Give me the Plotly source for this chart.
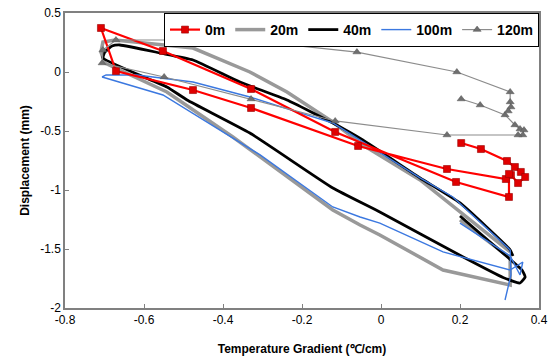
import plotly.graph_objects as go

# Displacement vs. temperature gradient loops at different depths
x_0m = [0.203, 0.253, 0.319, 0.339, 0.354, 0.365, 0.347, 0.329, 0.316, 0.167, -0.058,
        -0.329, -0.476, -0.671, -0.709, -0.552, -0.329, -0.116, 0.190, 0.324, 0.324]
y_0m = [-0.602, -0.653, -0.754, -0.805, -0.847, -0.890, -0.941, -0.873, -0.907, -0.822, -0.627,
        -0.305, -0.153, 0.008, 0.373, 0.178, -0.144, -0.508, -0.932, -1.059, -0.864]

x_20m = [0.200, 0.258, 0.327, 0.327, 0.157, -0.003, -0.053, -0.122, -0.306, -0.375, -0.542,
         -0.699, -0.709, -0.704, -0.673, -0.559, -0.476, -0.332, -0.238, -0.122, -0.046,
         0.099, 0.327]
y_20m = [-1.254, -1.398, -1.576, -1.805, -1.678, -1.381, -1.297, -1.169, -0.720, -0.551, -0.169,
         0.076, 0.169, 0.254, 0.271, 0.229, 0.203, 0.0, -0.169, -0.424, -0.619,
         -0.915, -1.525]

x_40m = [0.200, 0.314, 0.357, 0.365, 0.352, 0.309, 0.208, -0.003, -0.122, -0.332, -0.491, -0.542,
         -0.704, -0.699, -0.681, -0.661, -0.559, -0.476, -0.357, -0.238, -0.122, -0.046,
         0.099, 0.200, 0.327, 0.334]
y_40m = [-1.220, -1.551, -1.678, -1.737, -1.788, -1.741, -1.568, -1.186, -0.983, -0.517, -0.237, -0.127,
         0.119, 0.169, 0.220, 0.229, 0.161, 0.102, -0.085, -0.237, -0.432, -0.576,
         -0.898, -1.110, -1.508, -1.560]

x_100m = [0.200, 0.327, 0.352, 0.359, 0.327, 0.157, -0.003, -0.053, -0.122, -0.306, -0.552,
          -0.706, -0.696, -0.618, -0.476, -0.332, -0.205, -0.122, 0.099, 0.182, 0.327,
          0.329, 0.314]
y_100m = [-1.280, -1.559, -1.720, -1.610, -1.678, -1.525, -1.280, -1.229, -1.144, -0.703, -0.195,
          -0.042, -0.025, -0.025, -0.085, -0.212, -0.347, -0.432, -0.898, -1.059, -1.508,
          -1.720, -1.932]

x_120m = [0.203, 0.251, 0.314, 0.339, 0.352, 0.362, 0.359, 0.347, 0.167, -0.116, -0.329,
          -0.549, -0.706, -0.704, -0.671, -0.476, -0.327, -0.061, 0.192, 0.327, 0.327,
          0.329, 0.322]
y_120m = [-0.229, -0.280, -0.364, -0.449, -0.483, -0.492, -0.534, -0.534, -0.534, -0.415, -0.229,
          -0.042, 0.076, 0.186, 0.271, 0.271, 0.263, 0.169, 0.0, -0.169, -0.254,
          -0.297, -0.331]

x_ticks = [-0.8, -0.6, -0.4, -0.2, 0, 0.2, 0.4]
x_tick_text = ["-0.8", "-0.6", "-0.4", "-0.2", "0", "0.2", "0.4"]
y_ticks = [-2, -1.5, -1, -0.5, 0, 0.5]
y_tick_text = ["-2", "-1.5", "-1", "-0.5", "0", "0.5"]

FONT = "Arial, Liberation Sans, sans-serif"

fig = go.Figure()

fig.add_trace(go.Scatter(x=x_20m, y=y_20m, mode="lines", name="<b>20m</b>", legendrank=2,
                         line=dict(color="#999999", width=3.5)))
fig.add_trace(go.Scatter(x=x_40m, y=y_40m, mode="lines", name="<b>40m</b>", legendrank=3,
                         line=dict(color="#000000", width=2.8, shape="spline", smoothing=0.4)))
fig.add_trace(go.Scatter(x=x_100m, y=y_100m, mode="lines", name="<b>100m</b>", legendrank=4,
                         line=dict(color="#3b78e0", width=1.4)))
fig.add_trace(go.Scatter(x=x_0m, y=y_0m, mode="lines+markers", name="<b>0m</b>", legendrank=1,
                         line=dict(color="#ff0000", width=2.2),
                         marker=dict(symbol="square", size=7, color="#e00000",
                                     line=dict(color="#990000", width=0.6))))
fig.add_trace(go.Scatter(x=x_120m, y=y_120m, mode="lines+markers", name="<b>120m</b>", legendrank=5,
                         line=dict(color="#8c8c8c", width=1.2),
                         marker=dict(symbol="triangle-up", size=7, color="#6f6f6f",
                                     line=dict(color="#555555", width=0.5))))

axis_common = dict(showline=True, linecolor="#808080", linewidth=1.5, mirror=True,
                   showgrid=False, zeroline=False, ticks="inside", ticklen=4,
                   tickcolor="#808080", tickfont=dict(family=FONT, size=12, color="#000000"))

fig.update_layout(
    width=550, height=360,
    margin=dict(l=65, r=11, t=13, b=52),
    paper_bgcolor="white", plot_bgcolor="white",
    font=dict(family=FONT, color="#000000"),
    xaxis=dict(range=[-0.8, 0.4], tickvals=x_ticks, ticktext=x_tick_text,
               title=dict(text="<b>Temperature Gradient (℃/cm)</b>",
                          font=dict(family=FONT, size=12), standoff=18),
               automargin=False, **axis_common),
    yaxis=dict(range=[-2, 0.5], tickvals=y_ticks, ticktext=y_tick_text,
               title=dict(text="<b>Displacement (mm)</b>",
                          font=dict(family=FONT, size=12), standoff=8),
               automargin=False, **axis_common),
    legend=dict(orientation="h", x=1.0, xanchor="right", y=1.0, yanchor="top",
                bgcolor="white", bordercolor="#000000", borderwidth=1,
                font=dict(family=FONT, size=14, color="#000000"),
                traceorder="normal", itemwidth=30),
    showlegend=True,
)

fig.write_html("out.html")
